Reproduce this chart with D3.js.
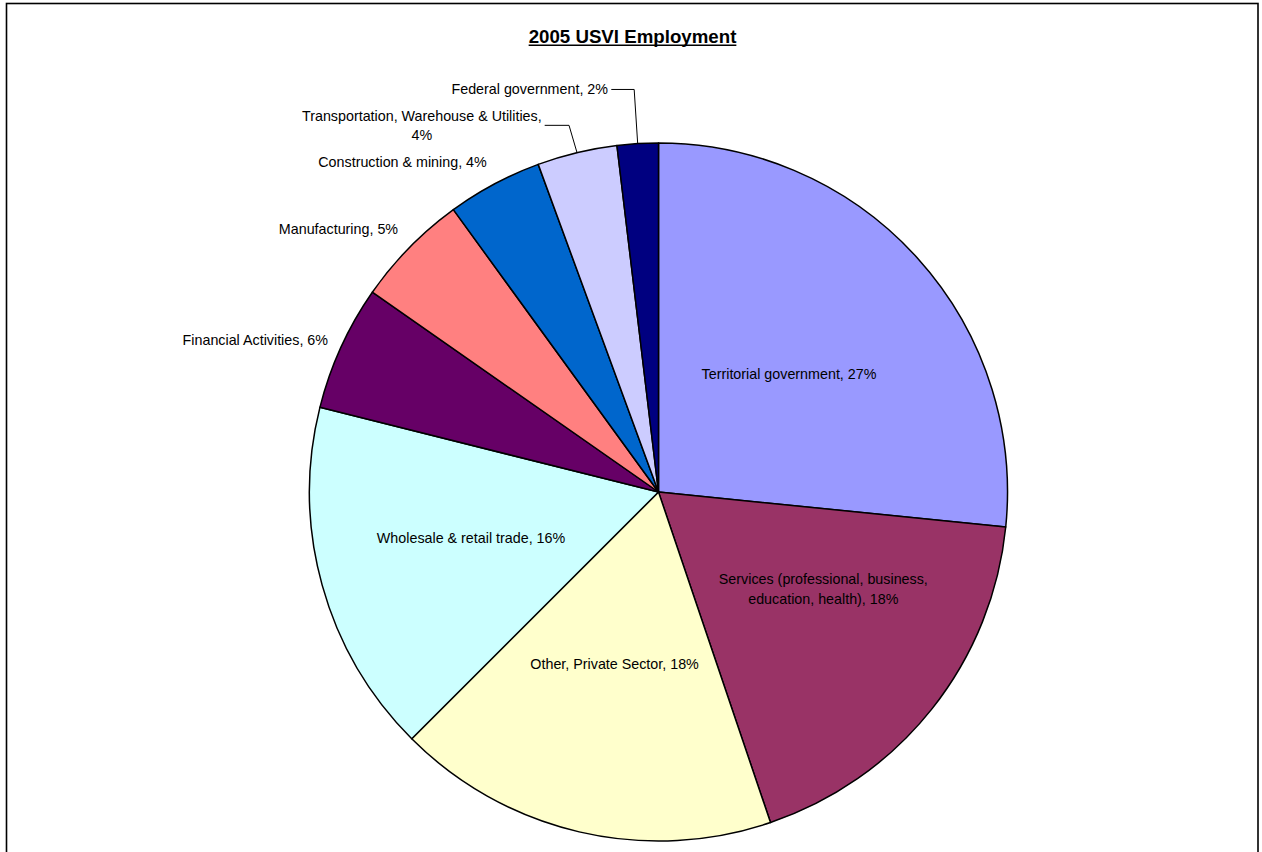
<!DOCTYPE html>
<html>
<head>
<meta charset="utf-8">
<script src="https://cdn.jsdelivr.net/npm/d3@7"></script>
<style>
  html, body { margin: 0; padding: 0; background: #fff; }
  svg { display: block; }
  text { font-family: "Liberation Sans", Arial, sans-serif; fill: #000; }
</style>
</head>
<body>
<svg id="chart" width="1262" height="852"></svg>
<script>
// 2005 USVI employment by sector, share of total jobs (%)
const categories = [
  "Territorial government",
  "Services (professional, business, education, health)",
  "Other, Private Sector",
  "Wholesale & retail trade",
  "Financial Activities",
  "Manufacturing",
  "Construction & mining",
  "Transportation, Warehouse & Utilities",
  "Federal government"
];
const shares = [26.6, 18.2, 17.7, 16.4, 5.8, 5.3, 4.4, 3.7, 1.9];
const sliceColors = [
  "#9999FF", "#993366", "#FFFFCC", "#CCFFFF", "#660066",
  "#FF8080", "#0066CC", "#CCCCFF", "#000080"
];
const titleText = "2005 USVI Employment";

// label placement: inside the slice or outside it, with small nudges
const labelLayout = [
  { inside: true,  dx: -3,  dy: 3 },
  { inside: true,  dx: 24,  dy: -15, breakAfter: "business," },
  { inside: true,  dx: -3,  dy: -3 },
  { inside: true,  dx: -14, dy: -2 },
  { inside: false, dx: 3.5, dy: 0 },
  { inside: false, dx: 1.5, dy: -6 },
  { inside: false, dx: 1,   dy: -6 },
  { inside: false, dx: -151, dy: -9.8, anchor: "middle", breakAfter: "Utilities,", leader: { elbow: -8 } },
  { inside: false, dx: -28.6, dy: -36.2, leader: { elbow: -3.5 } }
];

const W = 1262, H = 852;
const cx = 658.5, cy = 492, R = 349;
const fontSize = 14.3, lineH = 19.5;

const svg = d3.select("#chart");

// chart frame
svg.append("rect")
  .attr("x", 6.5).attr("y", 3.5)
  .attr("width", 1251.5).attr("height", 900)
  .attr("fill", "#fff").attr("stroke", "#000").attr("stroke-width", 1.6);

// title with underline
const title = svg.append("text")
  .attr("x", 632.5).attr("y", 42.7)
  .attr("text-anchor", "middle")
  .attr("font-size", 18.7).attr("font-weight", "bold")
  .text(titleText);
const tw = title.node().getComputedTextLength();
svg.append("line")
  .attr("x1", 632.5 - tw / 2).attr("x2", 632.5 + tw / 2)
  .attr("y1", 45.2).attr("y2", 45.2)
  .attr("stroke", "#000").attr("stroke-width", 1.5);

const pie = d3.pie().sort(null).value(d => d)(shares);
const arc = d3.arc().innerRadius(0).outerRadius(R);

const g = svg.append("g").attr("transform", `translate(${cx},${cy})`);
g.selectAll("path.slice")
  .data(pie)
  .join("path")
  .attr("class", "slice")
  .attr("d", arc)
  .attr("fill", (d, i) => sliceColors[i])
  .attr("stroke", "#000")
  .attr("stroke-width", 1.5)
  .attr("stroke-linejoin", "round");

function polar(angle, radius) {
  return [radius * Math.sin(angle), -radius * Math.cos(angle)];
}

const labelG = svg.append("g").attr("transform", `translate(${cx},${cy})`);

pie.forEach((d, i) => {
  const lay = labelLayout[i];
  const mid = (d.startAngle + d.endAngle) / 2;
  const full = categories[i] + ", " + Math.round(shares[i]) + "%";
  let lines = [full];
  if (lay.breakAfter) {
    const k = full.indexOf(lay.breakAfter) + lay.breakAfter.length;
    lines = [full.slice(0, k), full.slice(k).trim()];
  }
  const base = lay.inside ? polar(mid, 180) : polar(mid, R + 18);
  const x = base[0] + lay.dx;
  const y = base[1] + lay.dy;
  const anchor = lay.inside ? "middle" : (lay.anchor || "end");
  const t = labelG.append("text")
    .attr("text-anchor", anchor)
    .attr("font-size", fontSize);
  const y0 = y - (lines.length - 1) * lineH / 2;
  lines.forEach((ln, j) => {
    t.append("tspan")
      .attr("x", x)
      .attr("y", y0 + j * lineH + fontSize * 0.35)
      .text(ln);
  });

  if (lay.leader) {
    const bb = t.node().getBBox();
    const startX = bb.x + bb.width + 3;
    const end = polar(mid, R);
    const elbowX = end[0] + lay.leader.elbow;
    labelG.append("polyline")
      .attr("points", [[startX, y], [elbowX, y], end].map(p => p.join(",")).join(" "))
      .attr("fill", "none")
      .attr("stroke", "#000")
      .attr("stroke-width", 1);
  }
});
</script>
</body>
</html>
